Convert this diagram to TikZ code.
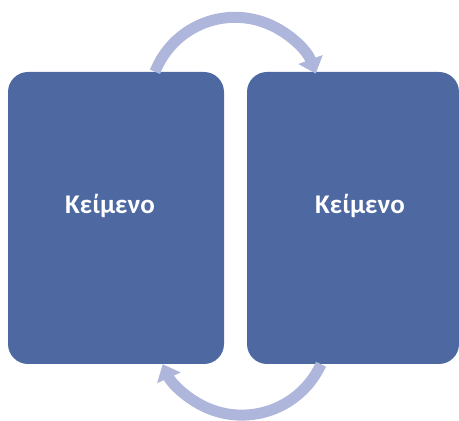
\documentclass[tikz,border=0pt]{standalone}
\usepackage{fontspec}
\setmainfont{Carlito}
\usetikzlibrary{arrows.meta}
\definecolor{boxblue}{HTML}{4E69A2}
\definecolor{arrowlilac}{HTML}{AFB6DB}

\begin{document}
\begin{tikzpicture}
[
    x=1pt, y=1pt,
    box/.style={fill=boxblue, draw=none, rounded corners=20pt, minimum height=292pt, inner sep=0pt},
    boxtext/.style={text=white, anchor=base, font=\bfseries\fontsize{27}{31}\selectfont},
    turnarrow/.style={draw=arrowlilac, line width=11pt, -{Triangle[width=25pt, length=15pt]}},
]
\useasboundingbox (0,0) rectangle (459,421);
\node [box, minimum width=216pt] (leftbox) at (116,203) {};
\node [box, minimum width=212pt] (rightbox) at (353,203) {};
% arcs between the two boxes
\draw [turnarrow] ([xshift=39pt]leftbox.north) arc[start angle=158.5, end angle=20.2, radius=86];
\draw [turnarrow] ([xshift=-32pt]rightbox.south) arc[start angle=-24.5, end angle=-155.5, radius=87];
\node [boxtext] (lefttext) at ([xshift=-6pt, yshift=4pt]leftbox.center) {Κείμενο};
\node [boxtext] (righttext) at ([xshift=7pt, yshift=4pt]rightbox.center) {Κείμενο};
\end{tikzpicture}
\end{document}
